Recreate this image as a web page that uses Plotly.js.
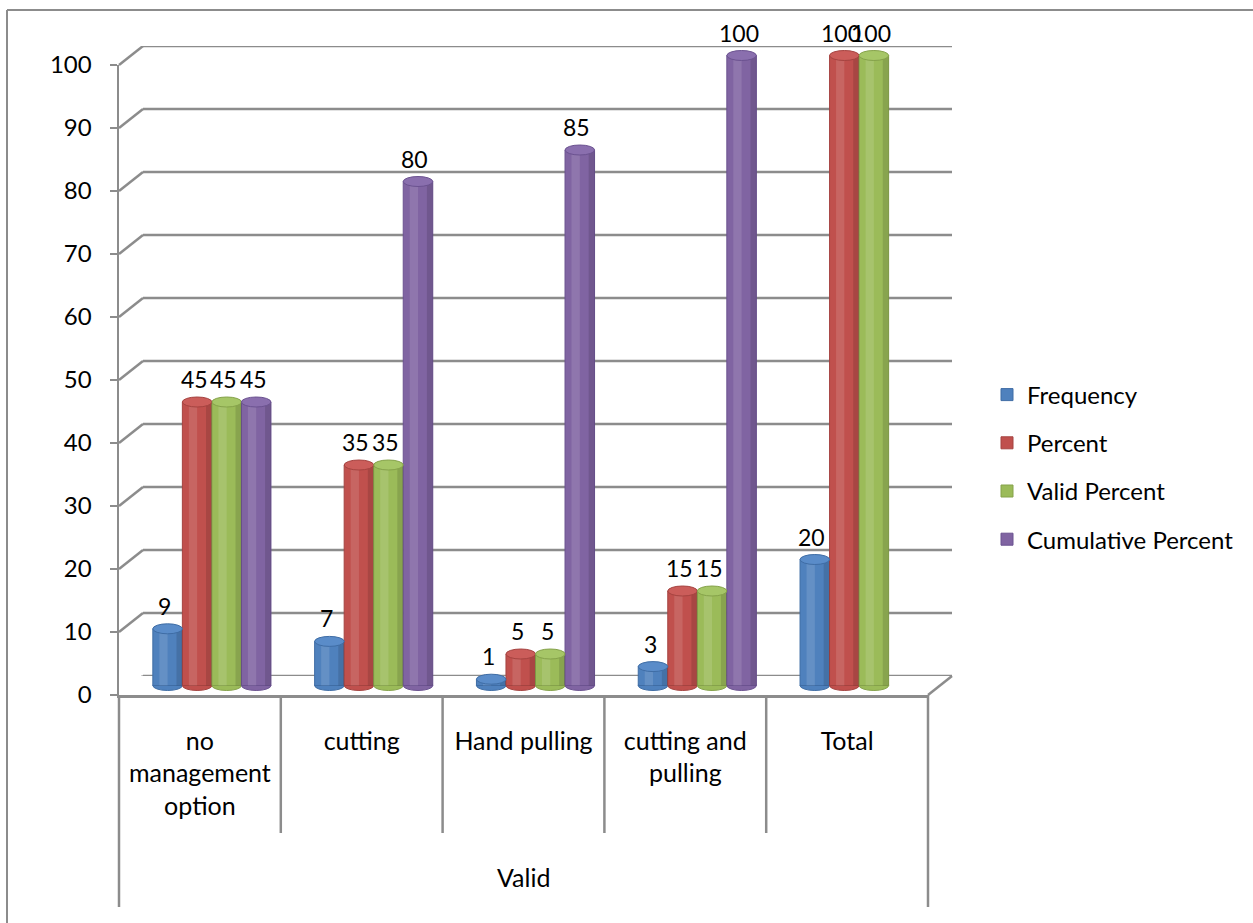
<!DOCTYPE html>
<html>
<head>
<meta charset="utf-8">
<script src="https://cdn.plot.ly/plotly-3.0.1.min.js"></script>
<style>
  html, body { margin: 0; padding: 0; background: #ffffff; }
  #chart { width: 1253px; height: 923px; }
</style>
</head>
<body>
<div id="chart"></div>
<script>
// ---- data ----
const categories = ["no management option", "cutting", "Hand pulling", "cutting and pulling", "Total"];
const categoryLabels = ["no<br>management<br>option", "cutting", "Hand pulling", "cutting and<br>pulling", "Total"];
const groupLabel = "Valid";
const seriesNames = ["Frequency", "Percent", "Valid Percent", "Cumulative Percent"];
const frequency = [9, 7, 1, 3, 20];
const percent = [45, 35, 5, 15, 100];
const validPercent = [45, 35, 5, 15, 100];
const cumulativePercent = [45, 80, 85, 100, null];
const yTicks = [0, 10, 20, 30, 40, 50, 60, 70, 80, 90, 100];

// ---- styling ----
const seriesValues = [frequency, percent, validPercent, cumulativePercent];
const colors = ["#4F81BD", "#C0504D", "#9BBB59", "#8064A2"];
const edgeColors = ["#3f6da5", "#a54340", "#85a24a", "#6b5290"];
const capColors = ["#5a8cc9", "#cb5d5a", "#a6c667", "#8a6fae"];
const FONT = "Lato, 'Open Sans', sans-serif";
const GRID = "#8c8c8c";

const W = 1253, H = 923;
const px = x => x / W;
const py = y => 1 - y / H;

// front plane (axis labels and the category table)
const F = { l: 119, r: 928, y0: 695, y100: 65 };
// depth of the 3-D box
const DX = 24, DY = 19;
// back wall
const B = { l: F.l + DX, r: F.r + DX, y0: F.y0 - DY, y100: F.y100 - DY };
// middle plane where the cylinders stand
const M = { l: F.l + DX / 2, r: F.r + DX / 2, y0: F.y0 - DY / 2, y100: F.y100 - DY / 2 };
const mScale = (M.y0 - M.y100) / 100;
const midRange = [-3, 103];
const midDomain = [py(M.y0 + mScale * 3), py(M.y100 - mScale * 3)];

const BARGAP = 0.27;
const nSeries = seriesNames.length;
const barW = (1 - BARGAP) / nSeries;
const barOffset = j => -(1 - BARGAP) / 2 + barW * (j + 0.5);

// ---- traces ----
const traces = [];
// back wall subplot
traces.push({ type: "scatter", x: [0], y: [0], xaxis: "x", yaxis: "y", mode: "markers",
  marker: { opacity: 0 }, hoverinfo: "skip", showlegend: false });
// front plane subplot (axis + category labels)
traces.push({ type: "scatter", x: categories, y: categories.map(() => 0), xaxis: "x2", yaxis: "y2",
  mode: "markers", marker: { opacity: 0 }, hoverinfo: "skip", showlegend: false });

seriesNames.forEach((name, j) => {
  traces.push({
    type: "bar", name: name, x: categories, y: seriesValues[j],
    xaxis: "x3", yaxis: "y3", legendgroup: name,
    marker: { color: colors[j], line: { color: edgeColors[j], width: 1 } },
    hoverinfo: "x+y+name"
  });
});

// ---- shapes ----
const shapes = [];
const line = (x0, y0, x1, y1, w) => ({ type: "line", xref: "paper", yref: "paper",
  x0: px(x0), y0: py(y0), x1: px(x1), y1: py(y1), line: { color: GRID, width: w || 2.5 } });

// outer frame
shapes.push(line(7, 10, W, 10, 2));
shapes.push(line(7, 10, 7, H, 2));

// back wall gridlines and depth diagonals from each front tick
yTicks.forEach(v => {
  shapes.push({ type: "line", xref: "paper", yref: "y", x0: px(B.l), x1: px(B.r), y0: v, y1: v,
    layer: "below", line: { color: GRID, width: 2.5 } });
  shapes.push({ type: "line", xref: "paper", yref: "y", ysizemode: "pixel", yanchor: v,
    x0: px(F.l), x1: px(B.l), y0: -DY, y1: 0, layer: "below", line: { color: GRID, width: 2.5 } });
});
// floor right edge
shapes.push(line(F.r, F.y0, B.r, B.y0));
// category table
shapes.push(line(F.l, F.y0, F.l, 907));
shapes.push(line(F.r, F.y0, F.r, 907));
for (let i = 0; i < categories.length - 1; i++) {
  shapes.push({ type: "line", xref: "x2", yref: "paper", x0: i + 0.5, x1: i + 0.5,
    y0: py(F.y0), y1: py(833), line: { color: GRID, width: 2.5 } });
}

// cylinder shading: rounded bottom, highlight, shadow edge and top cap
seriesValues.forEach((vals, j) => {
  vals.forEach((v, i) => {
    if (v === null || v === undefined) return;
    const c = i + barOffset(j);
    const l = c - barW / 2, r = c + barW / 2;
    shapes.push({ type: "circle", xref: "x3", yref: "y3", ysizemode: "pixel", yanchor: 0,
      x0: l, x1: r, y0: -5, y1: 5, layer: "between",
      fillcolor: colors[j], line: { color: edgeColors[j], width: 1 } });
    shapes.push({ type: "rect", xref: "x3", yref: "y3", x0: l + barW * 0.22, x1: l + barW * 0.5,
      y0: 0, y1: v, fillcolor: "rgba(255,255,255,0.12)", line: { width: 0 } });
    shapes.push({ type: "rect", xref: "x3", yref: "y3", x0: l + barW * 0.8, x1: r,
      y0: 0, y1: v, fillcolor: "rgba(0,0,0,0.12)", line: { width: 0 } });
    shapes.push({ type: "circle", xref: "x3", yref: "y3", ysizemode: "pixel", yanchor: v,
      x0: l, x1: r, y0: -5, y1: 5,
      fillcolor: capColors[j], line: { color: edgeColors[j], width: 1 } });
  });
});

// ---- annotations: value labels and group label ----
const annotations = [];
seriesValues.forEach((vals, j) => {
  vals.forEach((v, i) => {
    if (v === null || v === undefined) return;
    annotations.push({ xref: "x3", yref: "y3", x: i + barOffset(j), y: v, text: String(v),
      showarrow: false, xanchor: "center", yanchor: "middle", yshift: 23, xshift: -3,
      font: { family: FONT, size: 23, color: "#000000" } });
  });
});
annotations.push({ xref: "paper", yref: "paper", x: px((F.l + F.r) / 2), y: py(877),
  text: groupLabel, showarrow: false, xanchor: "center", yanchor: "middle",
  font: { family: FONT, size: 25, color: "#000000" } });

// ---- layout ----
const layout = {
  width: W, height: H,
  margin: { l: 0, r: 0, t: 0, b: 0, pad: 0 },
  paper_bgcolor: "#ffffff", plot_bgcolor: "rgba(0,0,0,0)",
  font: { family: FONT, size: 23, color: "#000000" },
  barmode: "group", bargap: BARGAP, bargroupgap: 0,
  showlegend: true,
  legend: { x: px(987), y: py(467), xanchor: "left", yanchor: "middle",
    font: { family: FONT, size: 24, color: "#000000" }, tracegroupgap: 14,
    bgcolor: "rgba(0,0,0,0)", borderwidth: 0 },
  // back wall
  xaxis: { domain: [px(B.l), px(B.r)], range: [0, 1], visible: false, fixedrange: true },
  yaxis: { domain: [py(B.y0), py(B.y100)], range: [0, 100], visible: false, showgrid: false,
    zeroline: false, fixedrange: true },
  // front plane
  xaxis2: { domain: [px(F.l), px(F.r)], anchor: "y2", type: "category", range: [-0.5, 4.5],
    tickmode: "array", tickvals: categories, ticktext: categoryLabels,
    showline: true, linecolor: GRID, linewidth: 2.5, ticks: "", showgrid: false, zeroline: false,
    ticklabelstandoff: 22, tickfont: { family: FONT, size: 25, color: "#000000" }, fixedrange: true },
  yaxis2: { domain: [py(F.y0), py(F.y100)], anchor: "x2", range: [0, 100], tickmode: "array",
    tickvals: yTicks, showline: true, linecolor: GRID, linewidth: 2.5,
    ticks: "outside", ticklen: 7, tickwidth: 2.5, tickcolor: GRID, showgrid: false, zeroline: false,
    ticklabelstandoff: 13, tickfont: { family: FONT, size: 24, color: "#000000" }, fixedrange: true },
  // cylinders
  xaxis3: { domain: [px(M.l), px(M.r)], anchor: "y3", type: "category", range: [-0.5, 4.5],
    visible: false, fixedrange: true },
  yaxis3: { domain: midDomain, anchor: "x3", range: midRange, visible: false, fixedrange: true },
  shapes: shapes,
  annotations: annotations
};

Plotly.newPlot("chart", traces, layout, { displayModeBar: false, staticPlot: true });
</script>
</body>
</html>
